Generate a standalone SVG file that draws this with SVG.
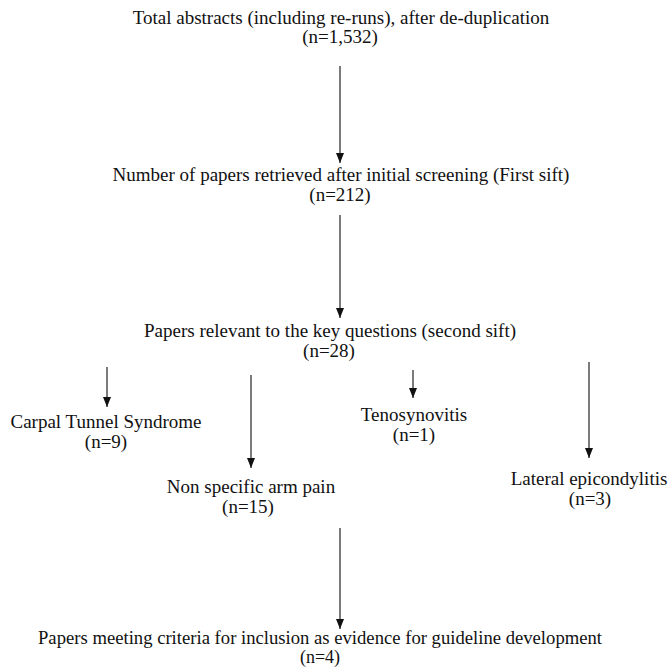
<svg xmlns="http://www.w3.org/2000/svg" width="668" height="667" viewBox="0 0 668 667">
<defs>
<style>
text{font-family:"Liberation Serif","Times New Roman","DejaVu Serif",serif;font-size:19px;fill:#111;text-anchor:middle}
#final text{font-size:18px}
.c{stroke:#222;stroke-width:1.2;fill:none;marker-end:url(#ah)}
</style>
<marker id="ah" viewBox="0 0 10 8" refX="10" refY="4" markerWidth="10" markerHeight="8" markerUnits="userSpaceOnUse" orient="auto">
<path d="M0,0 L10,4 L0,8 z" fill="#111"/>
</marker>
</defs>
<rect width="668" height="667" fill="#fff"/>
<g id="connectors">
<line class="c" x1="340" y1="66" x2="340" y2="163"/>
<line class="c" x1="340" y1="215" x2="340" y2="318"/>
<line class="c" x1="107" y1="367" x2="107" y2="407"/>
<line class="c" x1="251" y1="375" x2="251" y2="468"/>
<line class="c" x1="413" y1="370" x2="413" y2="398"/>
<line class="c" x1="589" y1="362" x2="589" y2="458"/>
<line class="c" x1="340" y1="528" x2="340" y2="629"/>
</g>
<g id="total"><text x="341" y="24">Total abstracts (including re-runs), after de-duplication</text><text x="340" y="43">(n=1,532)</text></g>
<g id="first"><text x="341" y="181">Number of papers retrieved after initial screening (First sift)</text><text x="340" y="201">(n=212)</text></g>
<g id="second"><text x="330" y="337">Papers relevant to the key questions (second sift)</text><text x="329" y="357">(n=28)</text></g>
<g id="cts"><text x="106" y="428">Carpal Tunnel Syndrome</text><text x="106" y="448">(n=9)</text></g>
<g id="teno"><text x="414" y="421">Tenosynovitis</text><text x="414" y="441">(n=1)</text></g>
<g id="nsap"><text x="251" y="493">Non specific arm pain</text><text x="248" y="513">(n=15)</text></g>
<g id="lat"><text x="589" y="485">Lateral epicondylitis</text><text x="590" y="505">(n=3)</text></g>
<g id="final"><text x="320" y="644" textLength="564" lengthAdjust="spacingAndGlyphs">Papers meeting criteria for inclusion as evidence for guideline development</text><text x="320" y="663">(n=4)</text></g>
</svg>
